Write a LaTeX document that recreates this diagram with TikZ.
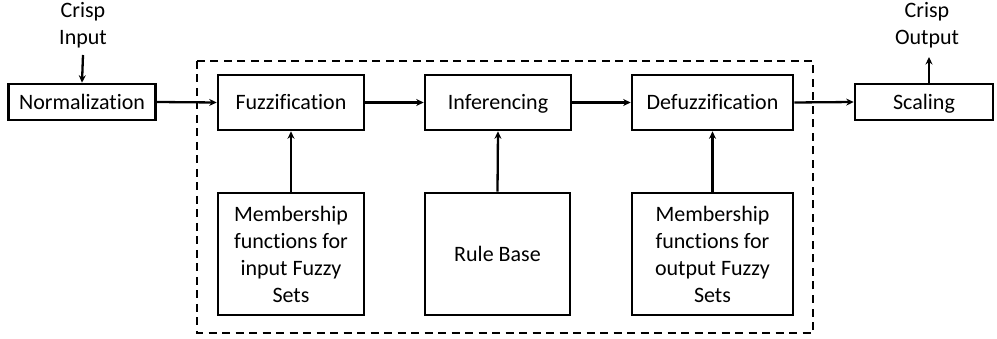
\documentclass[tikz,border=0pt]{standalone}
\usepackage{fontspec}
\setmainfont[Ligatures=NoCommon]{Carlito}
\usetikzlibrary{arrows.meta}
\begin{document}
\begin{tikzpicture}[x=1pt,y=-1pt,
  every node/.style={font=\fontsize{22}{27}\selectfont, align=center, inner sep=0pt},
  oneline/.style={text height=15pt, text depth=0pt},
  blk/.style={draw, line width=2.6pt, minimum width=#1},
  topblk/.style={blk=#1, oneline, minimum height=55pt},
  midblk/.style={blk=#1, oneline, minimum height=36pt},
  lowblk/.style={blk=#1, minimum height=122pt},
  arr/.style={line width=2.3pt, -{Stealth[length=7.5pt,width=7pt]}},
  frame/.style={line width=2.6pt, dash pattern=on 8pt off 5.5pt}
]
\useasboundingbox (0,0) rectangle (997,339);

% dashed enclosure of the fuzzy inference core
\draw[frame] (197,61) rectangle (813,333);

% pre- and post-processing stages
\node[midblk=147pt] (norm) at (82,102) {Normalization};
\node[midblk=138pt] (scale) at (924,102) {Scaling};

% main fuzzy pipeline
\node[topblk=146pt] (fuzz) at (291,102.5) {Fuzzification};
\node[topblk=146pt] (infer) at (498,102.5) {Inferencing};
\node[topblk=161pt] (defuzz) at (712.5,102.5) {Defuzzification};

% knowledge blocks feeding the pipeline
\node[lowblk=146pt] (mfin) at (291,254) {Membership\\functions for\\input Fuzzy\\Sets};
\node[lowblk=145pt] (rules) at (497.5,254) {Rule Base};
\node[lowblk=161pt] (mfout) at (712.5,254) {Membership\\functions for\\output Fuzzy\\Sets};

% crisp input / output labels
\node (cin) at (83,25) {Crisp\\Input};
\node (cout) at (927,25) {Crisp\\Output};
\coordinate (cinEnd) at (83,55);
\coordinate (coutEnd) at (929,57);

% connectors
\draw[arr] (cinEnd) -- (norm.north);
\draw[arr] (norm.east) -- (fuzz.west);
\draw[arr] (fuzz.east) -- (infer.west);
\draw[arr] (infer.east) -- (defuzz.west);
\draw[arr] (defuzz.east) -- (scale.west);
\draw[arr] (scale.north -| coutEnd) -- (coutEnd);
\draw[arr] (mfin.north) -- (fuzz.south);
\draw[arr] (rules.north) -- (infer.south);
\draw[arr] (mfout.north) -- (defuzz.south);
\end{tikzpicture}
\end{document}
